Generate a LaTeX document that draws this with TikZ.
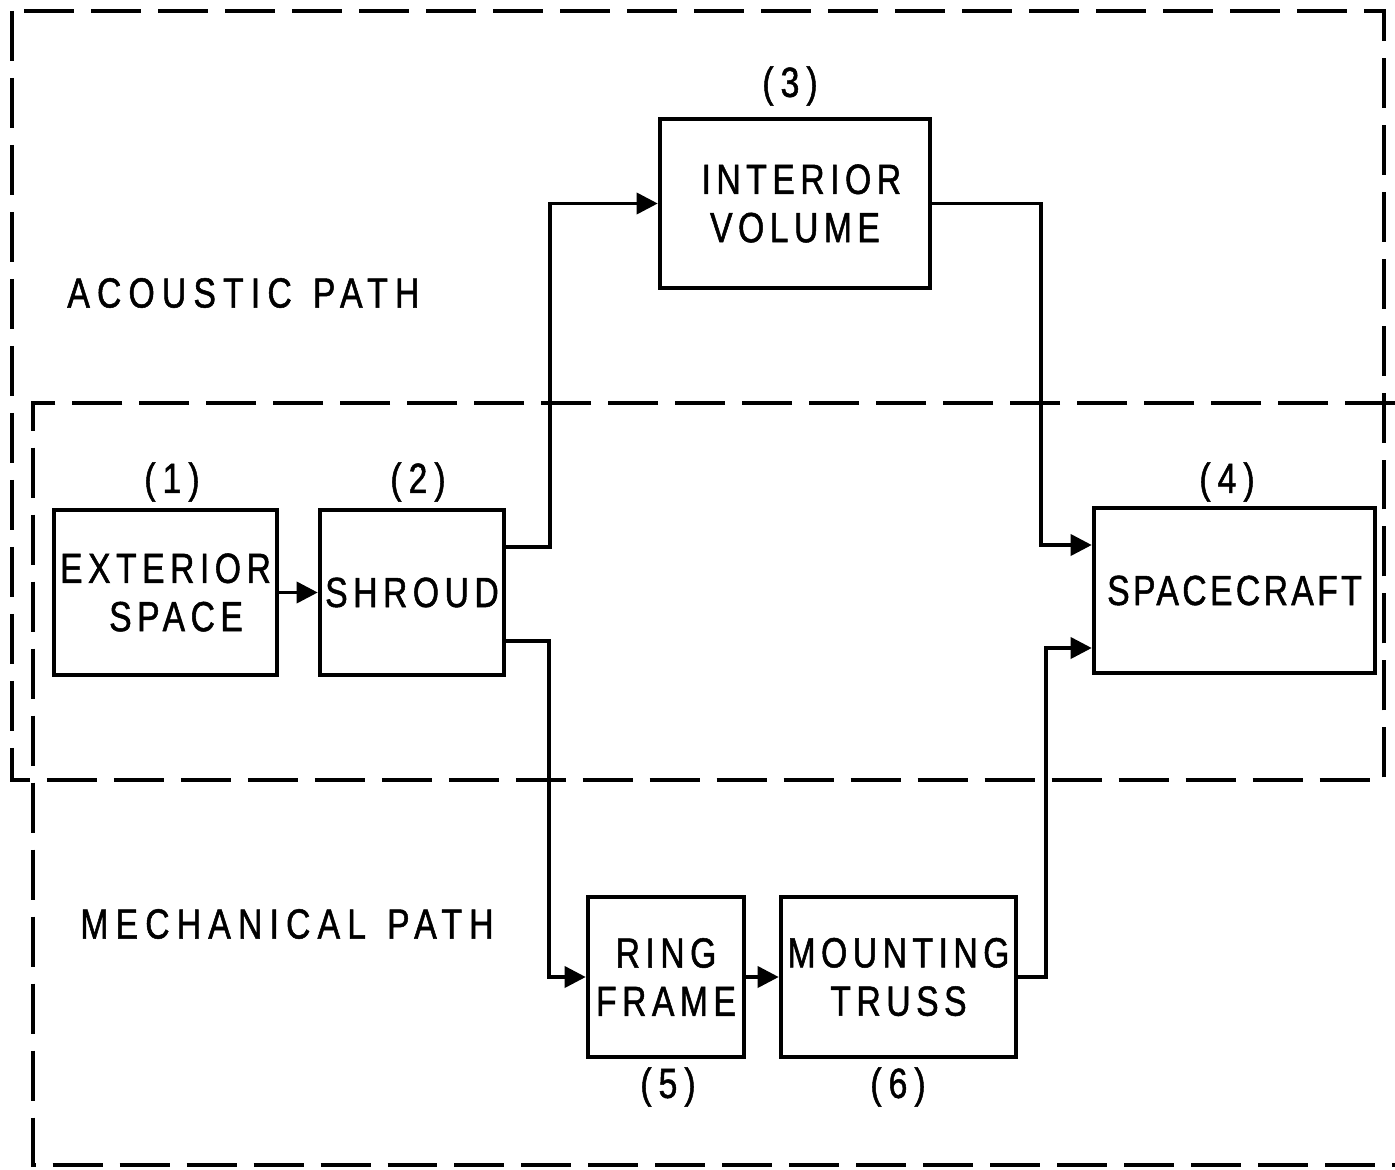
\documentclass[tikz,border=0pt]{standalone}
\usepackage{fontspec}
\newfontfamily\labfont[LetterSpace=13,FakeStretch=0.8,FakeBold=1.2]{Liberation Sans}
\newfontfamily\pathfont[LetterSpace=17,FakeStretch=0.8,FakeBold=1.2]{Liberation Sans}
\newfontfamily\tightfont[LetterSpace=8,FakeStretch=0.8,FakeBold=1.2]{Liberation Sans}
\usetikzlibrary{arrows.meta}
\begin{document}
\begin{tikzpicture}[x=0.02cm,y=-0.02cm,
  box/.style={draw,line width=2.6pt,inner sep=0pt,align=center,font=\labfont\fontsize{24}{27.5}\selectfont},
  conn/.style={line width=2pt,-{Triangle[length=12pt,width=12pt]}},
  dashbox/.style={line width=2.4pt,dash pattern=on 1cm off 0.34cm},
  lbl/.style={inner sep=0pt,font=\labfont\fontsize{24}{27.5}\selectfont},
  pathlbl/.style={inner sep=0pt,anchor=west,font=\pathfont\fontsize{24}{27.5}\selectfont}]
\useasboundingbox (0,0) rectangle (1395,1169);
% dashed regions
\draw[dashbox] (12,11) rectangle (1384,780);
\draw[dashbox,line width=2pt] (1395,403) -- (33,403) -- (33,1165) -- (1395,1165);
% boxes
\node[box,minimum width=4.46cm,minimum height=3.3cm] (ext) at (165.5,592.5) {EXTERIOR\\\hspace*{0.5em}SPACE};
\node[box,minimum width=3.68cm,minimum height=3.3cm] (shroud) at (412,592.5) {SHROUD};
\node[box,minimum width=5.4cm,minimum height=3.38cm] (int) at (795,203.5) {\hspace*{0.3em}INTERIOR\\VOLUME};
\node[box,minimum width=5.62cm,minimum height=3.3cm,font=\tightfont\fontsize{24}{27.5}\selectfont] (sc) at (1234.5,590.5) {SPACECRAFT};
\node[box,minimum width=3.12cm,minimum height=3.2cm] (ring) at (666,977) {RING\\FRAME};
\node[box,minimum width=4.7cm,minimum height=3.2cm] (mount) at (898.5,977) {MOUNTING\\TRUSS};
% numbers
\node[lbl] (n1) at (172,482) {(\,1\,)};
\node[lbl] (n2) at (418,482) {(\,2\,)};
\node[lbl] (n3) at (790,86) {(\,3\,)};
\node[lbl] (n4) at (1227,482) {(\,4\,)};
\node[lbl] (n5) at (668,1087) {(\,5\,)};
\node[lbl] (n6) at (898,1087) {(\,6\,)};
% path labels
\node[pathlbl] (ap) at (67,293) {ACOUSTIC\hspace{0.5em}PATH};
\node[pathlbl] (mp) at (80,924) {MECHANICAL\hspace{0.5em}PATH};
% connectors
\draw[conn] (ext.east) -- (shroud.west);
\draw[conn] (shroud.east |- {0,547}) -- (550,547) |- (int.west);
\draw[conn] (int.east) -- (1041,203.5) |- (sc.west |- {0,545});
\draw[conn] (shroud.east |- {0,641}) -- (549,641) |- (ring.west);
\draw[conn] (ring.east) -- (mount.west);
\draw[conn] (mount.east) -- (1046,977) |- (sc.west |- {0,648});
\end{tikzpicture}
\end{document}
